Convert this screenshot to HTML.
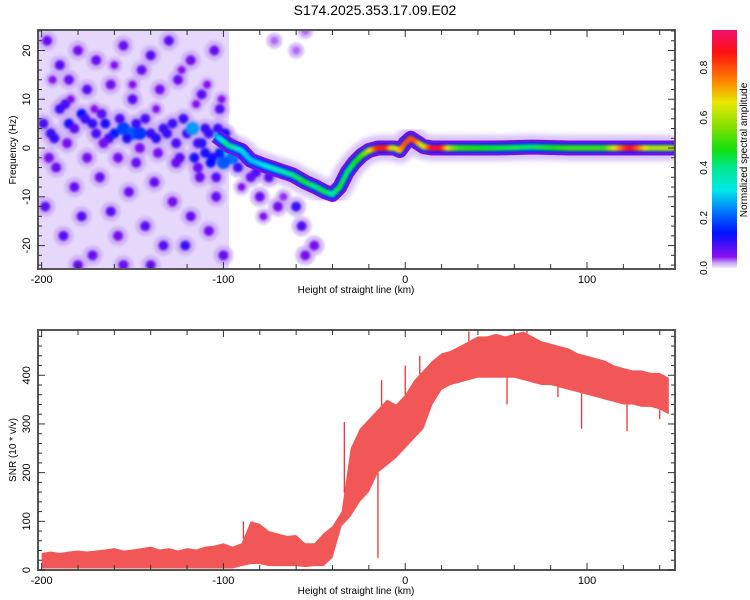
<!DOCTYPE html>
<html><head><meta charset="utf-8">
<style>
html,body{margin:0;padding:0;background:#fff;}
svg{display:block;font-family:"Liberation Sans",Arial,sans-serif;}
</style></head>
<body>
<svg id="chart" width="750" height="600" viewBox="0 0 750 600">
<text x="375" y="15" font-size="14" text-anchor="middle">S174.2025.353.17.09.E02</text>
<defs>
<clipPath id="clipTop"><rect x="38" y="30" width="637" height="239"/></clipPath>
<clipPath id="clipBot"><rect x="38" y="330" width="637" height="240"/></clipPath>
<linearGradient id="cbGrad" x1="0" y1="1" x2="0" y2="0"></linearGradient>
<filter id="blur1"><feGaussianBlur stdDeviation="1.2"/></filter>
<filter id="blur2"><feGaussianBlur stdDeviation="2.5"/></filter>
</defs>
<g id="topPlot"></g>
<g id="botPlot"></g>
<g id="cbar"></g>
</svg>
<script>
// ---- data ----
const xDomain = [-202, 148.4];
const freqDomain = [-24.8, 24.2];
const snrDomain = [0, 493];
const xTickLabels = [-200, -100, 0, 100];
const freqTickLabels = [20, 10, 0, -10, -20];
const snrTickLabels = [0, 100, 200, 300, 400];
const cbarTickLabels = [0.0, 0.2, 0.4, 0.6, 0.8];

// main spectral ridge: height (km), frequency (Hz), normalized amplitude
const ridgeKm   = [-104, -97, -90, -85, -78, -70, -62, -55, -49, -44, -40, -36, -32, -28, -24, -20, -15, -10, -6, -3, 0, 3, 6, 10, 15, 20, 25, 30, 50, 70, 90, 110, 124, 135, 148];
const ridgeHz   = [2.5, 0.5, -0.5, -2.5, -3.5, -4.5, -5.5, -7, -8, -9, -9.5, -8, -5, -3, -1.5, -0.5, 0, 0, 0, -0.5, 1, 2, 1.3, 0.3, 0, 0, 0, 0, 0, 0.2, 0, 0, 0, 0, 0];
const ridgeAmp  = [0.25, 0.42, 0.3, 0.28, 0.3, 0.35, 0.4, 0.45, 0.4, 0.45, 0.38, 0.45, 0.42, 0.45, 0.5, 0.6, 0.85, 0.85, 0.6, 0.7, 0.8, 0.8, 0.8, 0.6, 0.9, 0.88, 0.6, 0.5, 0.45, 0.42, 0.5, 0.5, 0.9, 0.6, 0.62];

// noise blobs: height (km), frequency (Hz), amplitude
const blobKm  = [-195,-190,-185,-178,-172,-165,-160,-155,-150,-146,-140,-133,-128,-120,-117,-112,-108,-103,-100,-98,-95,-110,-106,-100,
 -197,-190,-185,-180,-175,-170,-162,-155,-150,-145,-140,-135,-130,-125,-118,-112,-105,-102,
 -198,-192,-188,-182,-178,-172,-168,-162,-158,-152,-148,-143,-138,-133,-128,-124,-121,-118,-113,-108,-104,-100,-155,-180,-140,
 -85,-80,-75,-70,-60,-57,-50,-55,-72,-60,-55,
 -199,-193,-187,-182,-176,-170,-167,-163,-157,-153,-148,-143,-137,-131,-126,-122,-116,-114,-110,-107,-102,-99,-96,-92,-88,-82,
 -196,-186,-175,-166,-158,-146,-136,-126,-114,-104,-194,-184,-171,-160,-150,-137,-123,-115,-109,-101,-90,-78,-67];
const blobHz  = [3,8,5,7,5,5,3,4,3,3,3,4,5,3,4,1,3,4,2,0,-2,-1,-2,-3,
 22,17,14,20,12,18,13,21,10,16,19,12,22,14,18,11,20,8,
 -12,-4,-18,-8,-14,-22,-6,-13,-18,-9,-3,-16,-7,-20,-11,-2,-20,-14,-6,-17,-10,-22,-24,-24,-24,
 -6,-10,-6,-12,-12,-16,-20,-22,22,20,24,
 5,2,9,4,6,3,7,2,6,2,5,6,2,3,1,6,-2,1,4,-3,-1,3,1,-4,-2,-5,
 -2,1,-2,1,-2,0,-1,-3,-4,-6,14,10,8,17,13,8,16,9,13,10,-8,-14,-10];
const blobAmp = [0.1,0.1,0.12,0.14,0.1,0.12,0.15,0.18,0.2,0.17,0.1,0.1,0.1,0.1,0.25,0.12,0.1,0.1,0.12,0.3,0.22,0.12,0.12,0.2,
 0.07,0.08,0.07,0.06,0.08,0.07,0.06,0.07,0.08,0.07,0.08,0.06,0.08,0.07,0.06,0.08,0.07,0.08,
 0.08,0.07,0.08,0.07,0.08,0.07,0.07,0.08,0.06,0.07,0.07,0.08,0.07,0.08,0.06,0.08,0.1,0.07,0.07,0.06,0.07,0.07,0.07,0.07,0.07,
 0.07,0.07,0.08,0.06,0.1,0.09,0.06,0.06,0.03,0.03,0.03,
 0.09,0.1,0.09,0.08,0.1,0.09,0.08,0.1,0.09,0.12,0.1,0.09,0.11,0.1,0.09,0.1,0.12,0.1,0.1,0.14,0.15,0.12,0.1,0.1,0.09,0.08,
 0.06,0.06,0.06,0.06,0.06,0.06,0.06,0.07,0.07,0.08,0.05,0.05,0.05,0.05,0.05,0.05,0.05,0.05,0.05,0.05,0.05,0.05,0.04];

// SNR envelope every 5 km
const snrKm = [];
for (let k = -200; k <= 145; k += 5) snrKm.push(k);
const snrLow  = [3,3,3,3,3,3,3,3,3,3,3,3,3,3,3,3,3,3,3,3,3,3,8,12,12,8,8,8,8,6,8,8,25,90,110,140,160,200,215,230,250,270,290,340,370,380,385,390,395,395,395,395,395,390,385,380,380,375,370,365,360,355,350,345,340,340,335,335,330,320];
const snrHigh = [35,38,35,38,40,38,40,42,45,40,42,45,48,42,45,40,45,42,48,50,55,48,55,100,95,80,75,70,72,55,55,75,90,120,250,290,310,330,350,340,360,390,410,430,445,450,460,470,480,480,485,480,485,490,480,470,465,460,455,445,440,435,430,420,415,410,410,405,405,395];
const spikeKm  = [-89, -84, -33.5, -15, -13, 0, 8, 35, 56, 67, 84, 97, 122, 140];
const spikeVal = [100, 100, 304, 25, 390, 420, 440, 490, 340, 500, 355, 290, 285, 310];

// ---- helpers ----
const NS = "http://www.w3.org/2000/svg";
function mk(tag, attrs, parent) { const e = document.createElementNS(NS, tag); for (const k in attrs) e.setAttribute(k, attrs[k]); if (parent) parent.appendChild(e); return e; }
const X0 = 38, X1 = 675;
const xs = v => X0 + (v - xDomain[0]) / (xDomain[1] - xDomain[0]) * (X1 - X0);
const yTop = v => 269 - (v - freqDomain[0]) / (freqDomain[1] - freqDomain[0]) * 239;
const yBot = v => 570 - (v - snrDomain[0]) / (snrDomain[1] - snrDomain[0]) * 240;

const cmapStops = [[0,"#f0e6fc"],[0.02,"#c7a5f5"],[0.045,"#8a10f0"],[0.14,"#0010ff"],[0.22,"#0070ff"],[0.31,"#00e8e8"],[0.4,"#00e890"],[0.47,"#10e010"],[0.56,"#80e000"],[0.66,"#e8e800"],[0.75,"#ff8000"],[0.86,"#ff1010"],[0.95,"#f01070"]];
function hex2rgb(h){return [parseInt(h.substr(1,2),16),parseInt(h.substr(3,2),16),parseInt(h.substr(5,2),16)];}
function cmap(v){
  if (v <= 0) return cmapStops[0][1];
  for (let i=1;i<cmapStops.length;i++){
    if (v <= cmapStops[i][0]){
      const [a,ca]=cmapStops[i-1],[b,cb]=cmapStops[i];
      const t=(v-a)/(b-a), A=hex2rgb(ca), B=hex2rgb(cb);
      return "rgb("+A.map((x,j)=>Math.round(x+(B[j]-x)*t)).join(",")+")";
    }
  }
  return cmapStops[cmapStops.length-1][1];
}

function axes(g, yFn, yTicksMinor, yTicksMajor, yLabels, yTitle, yTitleY, top, bottom) {
  const fr = mk("rect", {x:X0, y:top, width:X1-X0, height:bottom-top, fill:"none", stroke:"#555", "stroke-width":2}, g);
  
  
  for (let k=-200;k<=140;k+=20){
    const x=xs(k), L=(k%100===0)?7:5;
    mk("line",{x1:x,y1:top,x2:x,y2:top+L,stroke:"#333","stroke-width":1},g);
    mk("line",{x1:x,y1:bottom,x2:x,y2:bottom-L,stroke:"#333","stroke-width":1},g);
  }
  xTickLabels.forEach(k=>{
    const t=mk("text",{x:xs(k),y:bottom+14,"font-size":11,"text-anchor":"middle"},g); t.textContent=String(k);
    
    
  });
  yTicksMinor.forEach(v=>{
    const y=yFn(v), L=yTicksMajor.includes(v)?7:4;
    mk("line",{x1:X0,y1:y,x2:X0+L,y2:y,stroke:"#333","stroke-width":1},g);
    mk("line",{x1:X1,y1:y,x2:X1-L,y2:y,stroke:"#333","stroke-width":1},g);
  });
  yLabels.forEach(v=>{
    const y=yFn(v);
    const t=mk("text",{x:0,y:0,"font-size":11,"text-anchor":"middle",transform:`translate(30,${y}) rotate(-90)`},g);
    t.textContent=String(v);
    
    
  });
  const xt=mk("text",{x:356,y:bottom+24,"font-size":10,"text-anchor":"middle"},g); xt.textContent="Height of straight line (km)";
  
  
  const yt=mk("text",{x:0,y:0,"font-size":10,"text-anchor":"middle",transform:`translate(16,${yTitleY}) rotate(-90)`},g); yt.textContent=yTitle;
  
  
}

// ---- top spectrogram ----
const gt = document.getElementById("topPlot");
const heat = mk("g", {"clip-path":"url(#clipTop)"}, gt);


const wash = mk("rect",{x:xs(-202),y:30,width:xs(-97)-xs(-202),height:239,fill:"#e6d8fb"},heat);


// ridge halo (below blobs)
const ridgePts = ridgeKm.map((k,i)=>xs(k)+","+yTop(ridgeHz[i])).join(" ");
const halo = mk("polyline",{points:ridgePts,fill:"none",stroke:"#d9c4f8","stroke-width":26,"stroke-linejoin":"round",filter:"url(#blur2)"},heat);


const paleG = mk("g",{filter:"url(#blur1)"},heat);
const blobG = mk("g",{filter:"url(#blur1)"},heat);
blobKm.forEach((k,i)=>{
  const a=blobAmp[i];
  mk("circle",{cx:xs(k),cy:yTop(blobHz[i]),r:a>0.05?10:8,fill:"#c9a9f5",opacity:0.75},paleG);
  const c=mk("circle",{cx:xs(k),cy:yTop(blobHz[i]),r:a>0.15?6.5:(a>0.05?5:4),fill:cmap(a)},blobG);
  
  
});
mk("polyline",{points:ridgePts,fill:"none",stroke:"#7010e8","stroke-width":15,"stroke-linejoin":"round"},heat);
mk("polyline",{points:ridgePts,fill:"none",stroke:"#1020ff","stroke-width":10,"stroke-linejoin":"round"},heat);
const core = mk("g",{filter:"url(#blur1)"},heat);


for (let i=0;i<ridgeKm.length-1;i++){
  const n=Math.max(1,Math.round((xs(ridgeKm[i+1])-xs(ridgeKm[i]))/2));
  for (let j=0;j<n;j++){
    const t=j/n;
    const k=ridgeKm[i]+(ridgeKm[i+1]-ridgeKm[i])*t;
    const h=ridgeHz[i]+(ridgeHz[i+1]-ridgeHz[i])*t;
    const a=ridgeAmp[i]+(ridgeAmp[i+1]-ridgeAmp[i])*t;
    mk("circle",{cx:xs(k),cy:yTop(h),r:3,fill:cmap(a)},core);
  }
}
axes(gt, yTop, Array.from({length:25},(_,i)=>-24+2*i), [-20,-10,0,10,20], freqTickLabels, "Frequency (Hz)", 150, 30, 269);

// ---- bottom SNR ----
const gb = document.getElementById("botPlot");
const sg = mk("g",{"clip-path":"url(#clipBot)"},gb);
const bandPts = snrKm.map((k,i)=>xs(k)+","+yBot(snrHigh[i])).concat(snrKm.slice().reverse().map((k,i)=>{const j=snrKm.length-1-i;return xs(k)+","+yBot(snrLow[j]);}));
const band = mk("polygon",{points:bandPts.join(" "),fill:"#ef3a3a",opacity:0.85},sg);


function envAt(arr,k){
  for (let i=0;i<snrKm.length-1;i++) if (k<=snrKm[i+1]){const t=(k-snrKm[i])/5;return arr[i]+(arr[i+1]-arr[i])*t;}
  return arr[arr.length-1];
}
spikeKm.forEach((k,i)=>{
  const v=spikeVal[i], lo=envAt(snrLow,k), hi=envAt(snrHigh,k);
  const from = v>hi?hi:(v<lo?lo:(lo+hi)/2);
  const s=mk("line",{x1:xs(k),y1:yBot(from),x2:xs(k),y2:yBot(v),stroke:"#ee3434","stroke-width":1.3},sg);
  
  
});
axes(gb, yBot, Array.from({length:25},(_,i)=>20*i), [0,100,200,300,400], snrTickLabels, "SNR (10 * v/v)", 450, 330, 570);

// ---- colorbar ----
const grad = document.getElementById("cbGrad");
cmapStops.forEach(([v,c])=>mk("stop",{offset:(v/0.95*100)+"%","stop-color":c},grad));
const gc = document.getElementById("cbar");
const cbTop=30, cbBot=268, cbY = v => cbBot - v/0.95*(cbBot-cbTop);
const cb = mk("rect",{x:712,y:cbTop,width:25,height:cbBot-cbTop,fill:"url(#cbGrad)"},gc);


cbarTickLabels.forEach(v=>{
  const t=mk("text",{x:0,y:0,"font-size":10,"text-anchor":"middle",transform:`translate(707,${cbY(v)}) rotate(-90)`},gc);
  t.textContent=v.toFixed(1);
  
  
});
const cbt = mk("text",{x:0,y:0,"font-size":10,"text-anchor":"middle",transform:"translate(747,150) rotate(-90)"},gc);
cbt.textContent="Normalized spectral amplitude";


</script>
</body></html>
